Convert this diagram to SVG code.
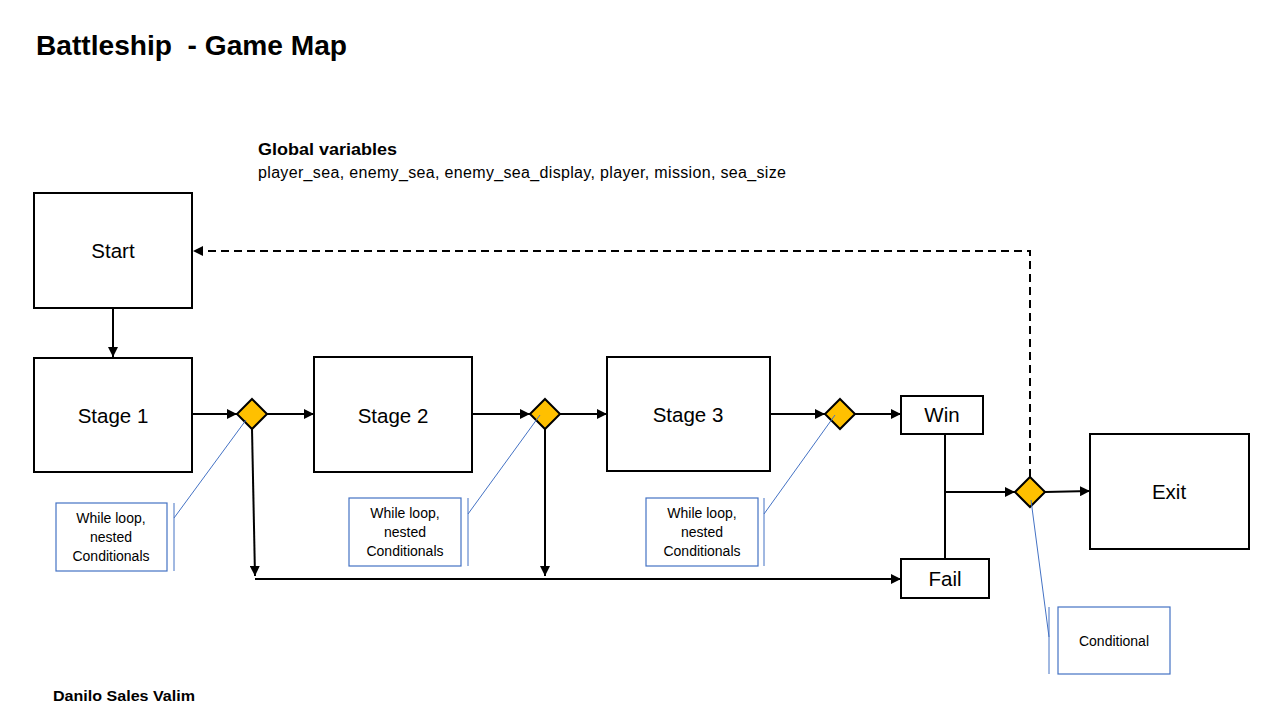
<svg xmlns="http://www.w3.org/2000/svg" width="1280" height="720" viewBox="0 0 1280 720">
<defs>
<marker id="ah" viewBox="0 0 10 10" refX="10" refY="5" markerWidth="10" markerHeight="10" markerUnits="userSpaceOnUse" orient="auto">
<path d="M0,0 L10,5 L0,10 z" fill="#000"/>
</marker>
<style>
.box{fill:#fff;stroke:#000;stroke-width:2}
.dia{fill:#FFC000;stroke:#000;stroke-width:2}
.lbl{font-family:"Liberation Sans",Arial,sans-serif;font-size:20.5px;fill:#000;text-anchor:middle}
.cbox{fill:#fff;stroke:#4472C4;stroke-width:1.2}
.cline{fill:none;stroke:#4472C4;stroke-width:1}
.ctxt{font-family:"Liberation Sans",Arial,sans-serif;font-size:14px;fill:#000;text-anchor:middle}
.con{fill:none;stroke:#000;stroke-width:2}
</style>
</defs>
<rect width="1280" height="720" fill="#fff"/>
<text x="36" y="55" font-family="'Liberation Sans',Arial,sans-serif" font-weight="bold" font-size="27" textLength="311" lengthAdjust="spacingAndGlyphs">Battleship&#160; - Game Map</text>
<text x="258" y="155" font-family="'Liberation Sans',Arial,sans-serif" font-weight="bold" font-size="17" textLength="139" lengthAdjust="spacingAndGlyphs">Global variables</text>
<text x="258" y="178" font-family="'Liberation Sans',Arial,sans-serif" font-size="16" textLength="528">player_sea, enemy_sea, enemy_sea_display, player, mission, sea_size</text>
<text x="53" y="701" font-family="'Liberation Sans',Arial,sans-serif" font-weight="bold" font-size="15.5" textLength="142" lengthAdjust="spacingAndGlyphs">Danilo Sales Valim</text>

<g id="connectors">
<line class="con" x1="113" y1="308" x2="113" y2="357" marker-end="url(#ah)"/>
<line class="con" x1="192" y1="414" x2="237" y2="414" marker-end="url(#ah)"/>
<line class="con" x1="267" y1="414" x2="314" y2="414" marker-end="url(#ah)"/>
<line class="con" x1="252" y1="429" x2="255" y2="576" marker-end="url(#ah)"/>
<line class="con" x1="255" y1="579" x2="901" y2="579" marker-end="url(#ah)"/>
<line class="con" x1="472" y1="414" x2="530" y2="414" marker-end="url(#ah)"/>
<line class="con" x1="560" y1="414" x2="607" y2="414" marker-end="url(#ah)"/>
<line class="con" x1="545" y1="429" x2="545" y2="576" marker-end="url(#ah)"/>
<line class="con" x1="770" y1="414" x2="825" y2="414" marker-end="url(#ah)"/>
<line class="con" x1="855" y1="414" x2="901" y2="414" marker-end="url(#ah)"/>
<line class="con" x1="945" y1="434" x2="945" y2="559"/>
<line class="con" x1="944" y1="492" x2="1015" y2="492" marker-end="url(#ah)"/>
<line class="con" x1="1045" y1="492" x2="1090" y2="491" marker-end="url(#ah)"/>
<polyline class="con" points="1030,477 1030,251 193,251" stroke-dasharray="8,5" marker-end="url(#ah)"/>
</g>

<g id="start"><rect class="box" x="34" y="193" width="158" height="115"/><text class="lbl" x="113" y="258">Start</text></g>
<g id="stage1"><rect class="box" x="34" y="358" width="158" height="114"/><text class="lbl" x="113" y="423">Stage 1</text></g>
<g id="stage2"><rect class="box" x="314" y="357" width="158" height="115"/><text class="lbl" x="393" y="423">Stage 2</text></g>
<g id="stage3"><rect class="box" x="607" y="357" width="163" height="114"/><text class="lbl" x="688" y="422">Stage 3</text></g>
<g id="win"><rect class="box" x="901" y="396" width="82" height="38"/><text class="lbl" x="942" y="422">Win</text></g>
<g id="fail"><rect class="box" x="901" y="559" width="88" height="39"/><text class="lbl" x="945" y="586">Fail</text></g>
<g id="exit"><rect class="box" x="1090" y="434" width="159" height="115"/><text class="lbl" x="1169" y="499">Exit</text></g>

<g id="d1"><polygon class="dia" points="252,399 267,414 252,429 237,414"/></g>
<g id="d2"><polygon class="dia" points="545,399 560,414 545,429 530,414"/></g>
<g id="d3"><polygon class="dia" points="840,399 855,414 840,429 825,414"/></g>
<g id="d4"><polygon class="dia" points="1030,477 1045,492 1030,507 1015,492"/></g>

<g id="callout1">
<line class="cline" x1="174" y1="518" x2="246" y2="420"/>
<line class="cline" x1="174" y1="503" x2="174" y2="571"/>
<rect class="cbox" x="56" y="503" width="111" height="68"/>
<text class="ctxt" x="111" y="523">While loop,</text>
<text class="ctxt" x="111" y="542">nested</text>
<text class="ctxt" x="111" y="561">Conditionals</text>
</g>
<g id="callout2">
<line class="cline" x1="468" y1="514" x2="540" y2="415"/>
<line class="cline" x1="468" y1="498" x2="468" y2="566"/>
<rect class="cbox" x="349" y="498" width="112" height="68"/>
<text class="ctxt" x="405" y="518">While loop,</text>
<text class="ctxt" x="405" y="537">nested</text>
<text class="ctxt" x="405" y="556">Conditionals</text>
</g>
<g id="callout3">
<line class="cline" x1="764" y1="514" x2="835" y2="415"/>
<line class="cline" x1="764" y1="498" x2="764" y2="566"/>
<rect class="cbox" x="646" y="498" width="112" height="68"/>
<text class="ctxt" x="702" y="518">While loop,</text>
<text class="ctxt" x="702" y="537">nested</text>
<text class="ctxt" x="702" y="556">Conditionals</text>
</g>
<g id="callout4">
<polyline class="cline" points="1031,500 1049,637"/>
<line class="cline" x1="1049" y1="607" x2="1049" y2="674"/>
<rect class="cbox" x="1058" y="607" width="112" height="67"/>
<text class="ctxt" x="1114" y="646">Conditional</text>
</g>
</svg>
